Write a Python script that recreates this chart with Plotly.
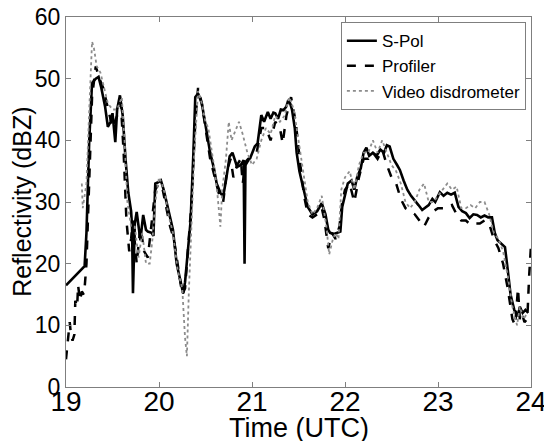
import plotly.graph_objects as go

# S-Pol radar reflectivity over the gauge site
spol_time = [19.00, 19.20, 19.22, 19.25, 19.28, 19.32, 19.35, 19.38, 19.42, 19.45, 19.48, 19.50,
             19.53, 19.55, 19.58, 19.61, 19.64, 19.67, 19.70, 19.71, 19.72, 19.74, 19.76, 19.80,
             19.83, 19.86, 19.88, 19.92, 19.94, 19.96, 19.99, 20.02, 20.05, 20.09, 20.12, 20.15,
             20.19, 20.23, 20.26, 20.28, 20.31, 20.34, 20.37, 20.39, 20.42, 20.46, 20.50, 20.55,
             20.59, 20.62, 20.66, 20.69, 20.72, 20.76, 20.79, 20.82, 20.84, 20.88, 20.91, 20.92,
             20.93, 20.96, 20.98, 21.03, 21.06, 21.10, 21.13, 21.17, 21.20, 21.23, 21.25, 21.28,
             21.31, 21.34, 21.37, 21.39, 21.41, 21.43, 21.46, 21.48, 21.51, 21.54, 21.57, 21.60,
             21.65, 21.70, 21.75, 21.79, 21.82, 21.84, 21.88, 21.92, 21.95, 21.97, 22.00, 22.03,
             22.07, 22.10, 22.13, 22.17, 22.20, 22.23, 22.26, 22.30, 22.34, 22.38, 22.42, 22.45,
             22.48, 22.52, 22.56, 22.59, 22.63, 22.67, 22.71, 22.75, 22.79, 22.83, 22.86, 22.90,
             22.94, 22.97, 23.02, 23.06, 23.10, 23.14, 23.18, 23.22, 23.26, 23.30, 23.34, 23.38,
             23.42, 23.46, 23.50, 23.54, 23.58, 23.61, 23.64, 23.68, 23.72, 23.75, 23.78, 23.82,
             23.86, 23.88, 23.91, 23.94, 23.97]
spol_dbz = [16.5, 19.6, 25.0, 40.0, 49.3, 50.0, 50.3, 48.5, 45.5, 42.2, 43.0, 44.4,
            39.7, 45.0, 47.3, 44.0, 37.0, 31.5, 28.5, 26.0, 15.2, 26.5, 28.4, 23.8,
            27.9, 25.5, 25.2, 25.0, 24.5, 33.0, 33.2, 33.5, 32.0, 29.5, 27.5, 25.5,
            20.0, 17.5, 15.2, 17.0, 22.0, 27.0, 38.0, 47.0, 47.6, 46.0, 42.5, 38.0,
            35.5, 33.0, 31.5, 30.9, 33.5, 37.4, 38.0, 36.5, 35.7, 36.0, 36.8, 20.0,
            36.5, 37.0, 37.1, 39.0, 39.5, 44.1, 43.0, 44.6, 43.5, 44.5, 44.4, 43.5,
            45.0, 44.9, 45.5, 46.5, 46.0, 45.0, 42.0, 38.0, 35.0, 33.0, 31.0, 29.2,
            28.0, 28.5, 29.8, 28.0, 25.5, 25.0, 24.8, 25.0, 25.2, 29.2, 31.0, 33.0,
            33.5, 32.0, 34.0, 35.5, 38.0, 38.8, 37.5, 38.0, 37.5, 38.5, 38.0, 39.2,
            39.0, 37.0, 36.0, 35.2, 33.5, 32.0, 31.0, 30.3, 29.5, 28.7, 29.0, 29.5,
            30.5, 30.0, 31.6, 31.0, 31.5, 31.2, 31.5, 29.2, 28.5, 28.2, 27.4, 28.0,
            27.9, 27.5, 27.8, 27.5, 27.5, 25.0, 23.8, 23.3, 22.7, 19.0, 15.0, 12.5,
            11.5, 13.0, 12.0, 12.5, 12.0]

# 915-MHz profiler reflectivity
prof_time = [19.00, 19.02, 19.04, 19.05, 19.07, 19.09, 19.10, 19.12, 19.13, 19.15, 19.17, 19.19,
             19.20, 19.22, 19.25, 19.28, 19.32, 19.36, 19.40, 19.45, 19.50, 19.55, 19.59, 19.62,
             19.65, 19.68, 19.70, 19.72, 19.76, 19.80, 19.84, 19.88, 19.92, 19.96, 20.00, 20.04,
             20.08, 20.12, 20.16, 20.20, 20.25, 20.28, 20.31, 20.35, 20.39, 20.42, 20.46, 20.50,
             20.55, 20.60, 20.65, 20.69, 20.73, 20.77, 20.80, 20.84, 20.88, 20.90, 20.93, 20.97,
             21.00, 21.05, 21.10, 21.15, 21.20, 21.25, 21.30, 21.33, 21.37, 21.42, 21.47, 21.52,
             21.56, 21.60, 21.65, 21.70, 21.75, 21.78, 21.82, 21.86, 21.90, 21.94, 21.97, 22.00,
             22.05, 22.10, 22.15, 22.20, 22.25, 22.30, 22.35, 22.40, 22.45, 22.50, 22.55, 22.60,
             22.65, 22.70, 22.75, 22.80, 22.85, 22.90, 22.95, 23.00, 23.05, 23.10, 23.15, 23.20,
             23.25, 23.30, 23.35, 23.40, 23.45, 23.50, 23.55, 23.60, 23.65, 23.70, 23.75, 23.80,
             23.83, 23.86, 23.88, 23.90, 23.93, 23.96, 23.98, 24.00]
prof_dbz = [4.5, 7.0, 10.5, 9.0, 7.5, 8.5, 14.0, 13.0, 16.5, 14.0, 15.5, 15.0,
            16.0, 20.0, 35.0, 47.0, 52.0, 50.0, 48.5, 45.0, 42.0, 44.0, 46.0, 38.0,
            27.0, 22.0, 24.0, 27.0, 20.0, 26.0, 22.0, 21.0, 26.0, 32.0, 33.0, 32.0,
            29.0, 26.0, 24.0, 20.0, 15.0, 16.0, 22.0, 30.0, 43.0, 48.5, 46.0, 42.0,
            37.0, 34.0, 31.0, 30.0, 35.0, 37.0, 34.0, 36.0, 37.0, 33.0, 36.0, 37.0,
            37.5, 38.0, 42.0, 42.0, 40.0, 43.0, 42.0, 39.5, 44.0, 47.0, 43.0, 36.0,
            31.0, 28.0, 27.5, 28.0, 29.0, 27.0, 22.5, 25.0, 24.0, 26.0, 30.0, 32.0,
            33.0, 30.0, 34.0, 37.0, 37.0, 38.0, 37.0, 38.5, 36.0, 34.0, 33.0, 30.5,
            29.0, 28.5, 28.0, 27.0, 26.0, 27.5, 28.5, 29.0, 29.0, 29.0, 29.5, 28.0,
            27.0, 27.0, 26.3, 26.5, 26.5, 27.0, 26.5, 24.0, 22.5, 20.0, 16.0, 11.0,
            10.0, 16.0, 11.0, 12.0, 10.5, 11.0, 18.0, 23.0]

# Reflectivity computed from the video disdrometer drop spectra
vd_time = [19.17, 19.18, 19.20, 19.22, 19.25, 19.28, 19.30, 19.33, 19.37, 19.40, 19.45, 19.50,
           19.55, 19.60, 19.63, 19.66, 19.70, 19.74, 19.78, 19.82, 19.86, 19.90, 19.93, 19.96,
           20.00, 20.03, 20.07, 20.10, 20.15, 20.20, 20.25, 20.28, 20.30, 20.32, 20.35, 20.38,
           20.42, 20.46, 20.50, 20.53, 20.57, 20.60, 20.63, 20.66, 20.68, 20.72, 20.75, 20.78,
           20.82, 20.86, 20.90, 20.95, 21.00, 21.05, 21.10, 21.15, 21.20, 21.25, 21.30, 21.35,
           21.40, 21.45, 21.50, 21.55, 21.60, 21.65, 21.70, 21.75, 21.80, 21.83, 21.87, 21.90,
           21.93, 21.96, 22.00, 22.05, 22.10, 22.15, 22.20, 22.25, 22.30, 22.35, 22.40, 22.45,
           22.50, 22.55, 22.60, 22.65, 22.70, 22.75, 22.80, 22.85, 22.90, 22.95, 23.00, 23.05,
           23.10, 23.15, 23.20, 23.25, 23.30, 23.35, 23.40, 23.45, 23.50, 23.55, 23.60, 23.65,
           23.70, 23.75, 23.80, 23.85, 23.88, 23.92, 23.96]
vd_dbz = [33.0, 29.0, 31.0, 33.0, 45.0, 56.0, 55.0, 52.0, 51.0, 49.0, 46.0, 45.0,
          45.0, 47.0, 40.0, 30.0, 26.0, 26.0, 21.0, 25.0, 20.0, 20.0, 24.0, 30.0,
          34.0, 33.0, 31.0, 28.0, 25.0, 19.0, 16.0, 8.0, 5.0, 15.0, 28.0, 38.0,
          48.0, 46.0, 43.0, 42.0, 38.0, 35.0, 31.0, 26.0, 32.0, 37.0, 43.0, 40.0,
          41.5, 43.0, 41.0, 38.0, 36.0, 37.0, 40.0, 42.0, 41.0, 44.0, 43.0, 44.0,
          47.0, 45.0, 40.0, 35.0, 30.0, 28.0, 29.0, 31.0, 26.0, 21.5, 24.0, 25.0,
          24.0, 32.0, 34.0, 35.0, 32.0, 36.0, 38.0, 38.0, 40.0, 38.0, 40.0, 38.0,
          36.0, 35.0, 33.0, 30.0, 29.0, 30.0, 32.0, 33.0, 30.0, 30.0, 31.0, 32.0,
          33.0, 32.0, 32.5, 29.0, 29.0, 29.5, 29.0, 30.0, 30.0, 28.0, 25.0, 24.0,
          22.0, 18.0, 13.0, 10.0, 13.0, 11.0, 12.0]

x_ticks = [19, 20, 21, 22, 23, 24]
y_ticks = [0, 10, 20, 30, 40, 50, 60]

FONT = "Liberation Sans, Arial, sans-serif"
AXIS_GRAY = "#7f7f7f"

fig = go.Figure()
fig.add_trace(go.Scatter(x=spol_time, y=spol_dbz, mode="lines", name="S-Pol",
                         line=dict(color="black", width=2.6)))
fig.add_trace(go.Scatter(x=prof_time, y=prof_dbz, mode="lines", name="Profiler",
                         line=dict(color="black", width=2.5, dash="dash")))
fig.add_trace(go.Scatter(x=vd_time, y=vd_dbz, mode="lines", name="Video disdrometer",
                         line=dict(color="#8c8c8c", width=1.8, dash="dot")))

fig.update_layout(
    width=544, height=441,
    margin=dict(l=66, r=13, t=17, b=54, autoexpand=False),
    paper_bgcolor="white", plot_bgcolor="white",
    font=dict(family=FONT, color="black"),
    showlegend=True,
    legend=dict(x=0.989, y=0.986, xanchor="right", yanchor="top",
                bgcolor="white", bordercolor=AXIS_GRAY, borderwidth=1,
                font=dict(size=17, family=FONT), tracegroupgap=0,
                itemwidth=30),
    xaxis=dict(range=[19, 24], tickvals=x_ticks, ticktext=[str(v) for v in x_ticks],
               showgrid=False, zeroline=False, showline=True, linecolor=AXIS_GRAY,
               linewidth=1, mirror="ticks", ticks="inside", ticklen=5,
               tickcolor=AXIS_GRAY, tickfont=dict(size=28, family=FONT),
               ticklabeloverflow="allow", ticklabelstandoff=-11, automargin=False),
    yaxis=dict(range=[0, 60], tickvals=y_ticks, ticktext=[str(v) for v in y_ticks],
               showgrid=False, zeroline=False, showline=True, linecolor=AXIS_GRAY,
               linewidth=1, mirror="ticks", ticks="inside", ticklen=5,
               tickcolor=AXIS_GRAY, tickfont=dict(size=23, family=FONT),
               ticklabeloverflow="allow", automargin=False),
    annotations=[
        dict(text="Reflectivity (dBZ)", xref="paper", yref="paper",
             x=-0.095, y=0.5, xanchor="center", yanchor="middle",
             textangle=-90, showarrow=False, font=dict(size=25, family=FONT)),
        dict(text="Time (UTC)", xref="paper", yref="paper",
             x=0.5, y=-0.066, xanchor="center", yanchor="top",
             showarrow=False, font=dict(size=27, family=FONT)),
    ],
)

fig.write_html("out.html")
